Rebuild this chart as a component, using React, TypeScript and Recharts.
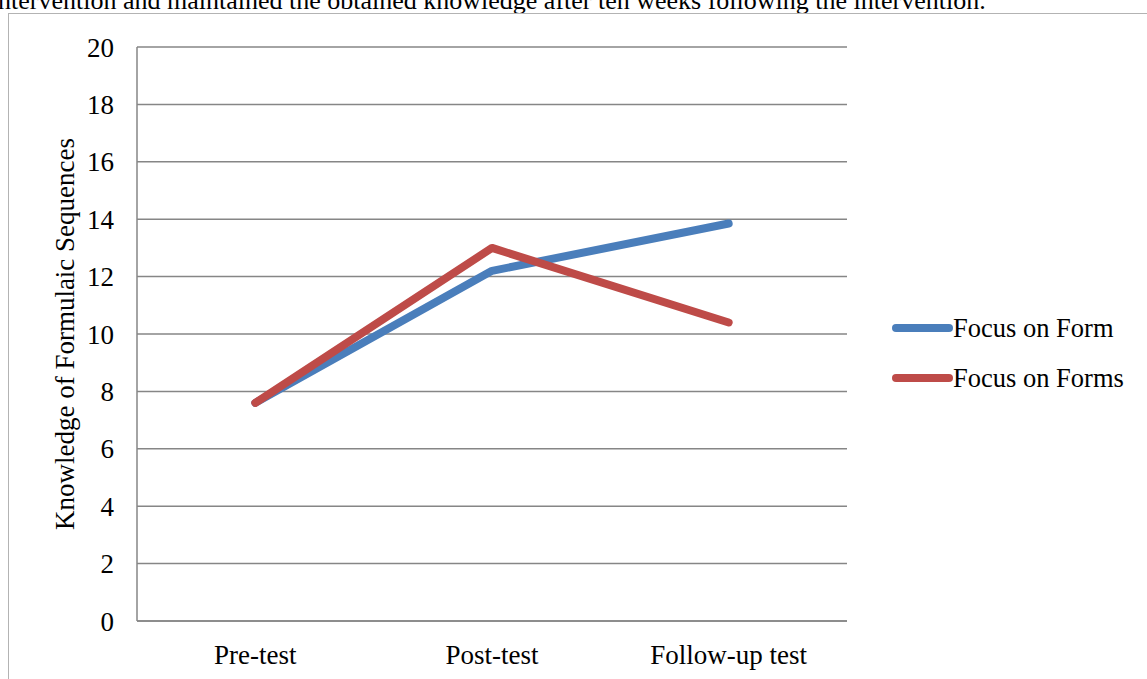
import { CartesianGrid, Line, LineChart, XAxis, YAxis } from "recharts";

const tests = ["Pre-test", "Post-test", "Follow-up test"];
const focusOnForm = [7.6, 12.2, 13.85];
const focusOnForms = [7.6, 13.0, 10.4];
const yTicks = [0, 2, 4, 6, 8, 10, 12, 14, 16, 18, 20];

const seriesInfo = [
  { key: "form", name: "Focus on Form", color: "#4A7EBB" },
  { key: "forms", name: "Focus on Forms", color: "#BE4B48" },
];

const data = tests.map((test, i) => ({
  test,
  form: focusOnForm[i],
  forms: focusOnForms[i],
}));

const font = "'Liberation Serif', 'Times New Roman', serif";
const tickStyle = { fill: "#000", fontSize: 27, fontFamily: font };

function LegendBox() {
  return (
    <div
      style={{
        position: "absolute",
        left: 892,
        top: 303,
        fontFamily: font,
        fontSize: 26.5,
        color: "#000",
      }}
    >
      {seriesInfo.map((s) => (
        <div key={s.key} style={{ display: "flex", alignItems: "center", height: 50 }}>
          <span
            style={{
              display: "inline-block",
              width: 61,
              height: 8,
              borderRadius: 4,
              background: s.color,
            }}
          />
          <span>{s.name}</span>
        </div>
      ))}
    </div>
  );
}

export default function App() {
  return (
    <div style={{ position: "relative", width: 1147, height: 679, overflow: "hidden", background: "#fff" }}>
      <style>{"body{margin:0}"}</style>
      <div
        style={{
          position: "absolute",
          left: -2,
          top: -14,
          fontFamily: font,
          fontSize: 26,
          whiteSpace: "nowrap",
        }}
      >
        ntervention and maintained the obtained knowledge after ten weeks following the intervention.
      </div>
      <div
        style={{
          position: "absolute",
          left: 8,
          top: 13,
          width: 1200,
          height: 700,
          borderLeft: "1.5px solid #b3b3b3",
          borderTop: "1.5px solid #b3b3b3",
        }}
      />
      <div style={{ position: "absolute", left: 0, top: 0 }}>
        <LineChart
          width={1147}
          height={679}
          data={data}
          margin={{ top: 47, right: 300, left: 0, bottom: 0 }}
        >
          <CartesianGrid stroke="#868686" strokeWidth={1.5} vertical={false} />
          <XAxis
            dataKey="test"
            scale="band"
            height={58}
            axisLine={{ stroke: "#868686", strokeWidth: 1.5 }}
            tickLine={false}
            tickSize={0}
            tickMargin={24}
            tick={tickStyle}
          />
          <YAxis
            width={137}
            domain={[0, 20]}
            ticks={yTicks}
            interval={0}
            axisLine={{ stroke: "#868686", strokeWidth: 1.5 }}
            tickLine={false}
            tickSize={0}
            tickMargin={23}
            tick={tickStyle}
            label={{
              value: "Knowledge of Formulaic Sequences",
              angle: -90,
              position: "insideLeft",
              offset: 64,
              style: { textAnchor: "middle", fill: "#000", fontSize: 27, fontFamily: font },
            }}
          />
          {seriesInfo.map((s) => (
            <Line
              key={s.key}
              dataKey={s.key}
              name={s.name}
              stroke={s.color}
              strokeWidth={8}
              strokeLinecap="round"
              strokeLinejoin="round"
              dot={false}
              isAnimationActive={false}
            />
          ))}
        </LineChart>
      </div>
      <LegendBox />
    </div>
  );
}
